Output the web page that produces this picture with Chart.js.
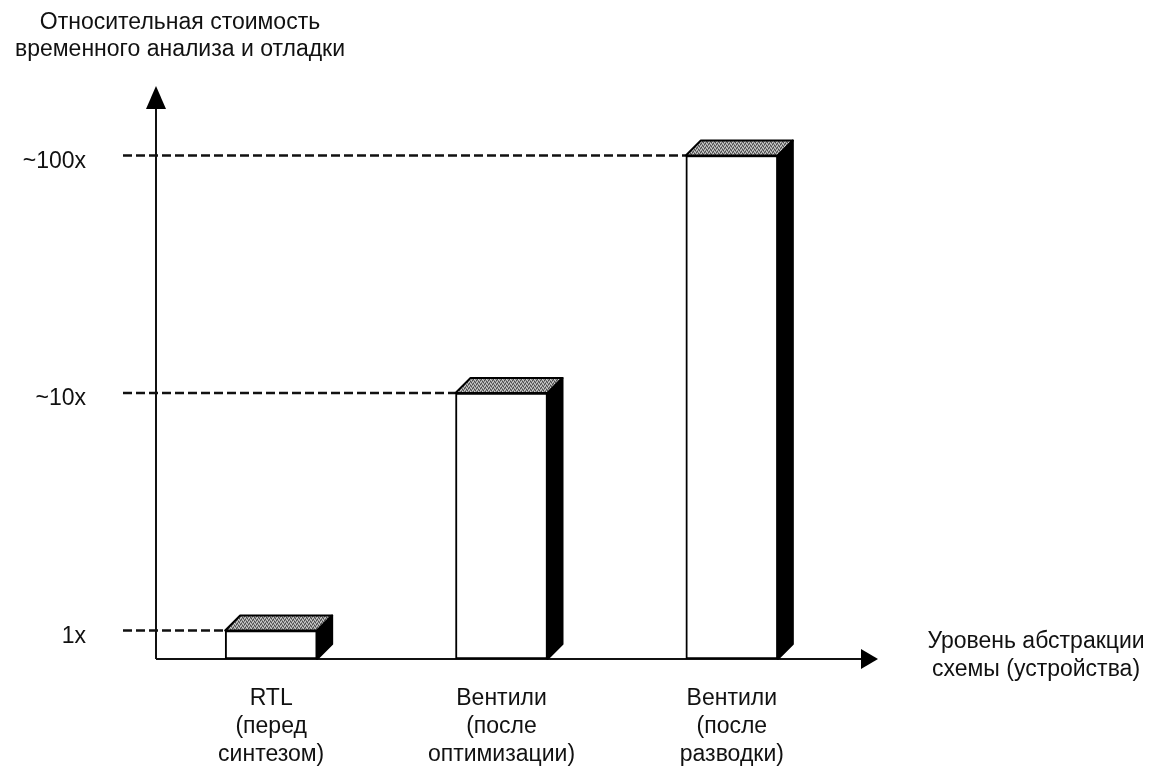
<!DOCTYPE html>
<html lang="ru">
<head>
  <meta charset="UTF-8" />
  <title>Относительная стоимость временного анализа и отладки</title>
  <script src="https://cdn.jsdelivr.net/npm/chart.js"></script>
  <style>
    html, body { margin: 0; padding: 0; background: #fff; }
    #wrap { width: 1149px; height: 768px; position: relative; }
  </style>
</head>
<body>
  <div id="wrap"><canvas id="cost-chart"></canvas></div>

  <script>
    // данные
    const stages = [
      ['RTL', '(перед', 'синтезом)'],
      ['Вентили', '(после', 'оптимизации)'],
      ['Вентили', '(после', 'разводки)']
    ];
    const costValues = [1, 10, 100];
    const costTicks = [1, 10, 100];
    const costTickLabels = ['1x', '~10x', '~100x'];
    const yTitle = ['Относительная стоимость', 'временного анализа и отладки'];
    const xTitle = ['Уровень абстракции', 'схемы (устройства)'];

    const FONT = '"Liberation Sans", Arial, Helvetica, sans-serif';
    const FONT_SIZE = 23;

    // серая "зернистая" текстура для верхней грани
    function makeTopPattern(ctx) {
      const c = document.createElement('canvas');
      c.width = 4; c.height = 4;
      const p = c.getContext('2d');
      p.fillStyle = '#8f8f8f'; p.fillRect(0, 0, 4, 4);
      p.fillStyle = '#4a4a4a';
      p.fillRect(0, 0, 1, 1); p.fillRect(2, 1, 1, 1); p.fillRect(1, 3, 1, 1); p.fillRect(3, 2, 1, 1);
      p.fillStyle = '#cfcfcf';
      p.fillRect(1, 1, 1, 1); p.fillRect(3, 0, 1, 1); p.fillRect(0, 2, 1, 1); p.fillRect(2, 3, 1, 1);
      return ctx.createPattern(c, 'repeat');
    }

    const DEPTH = 15;

    const decorPlugin = {
      id: 'decor',
      beforeDatasetsDraw(chart) {
        const { ctx, chartArea, scales } = chart;
        const bars = chart.getDatasetMeta(0).data;
        ctx.save();
        // пунктирные линии от оси к вершинам столбцов
        ctx.strokeStyle = '#111';
        ctx.lineWidth = 2.5;
        ctx.setLineDash([9, 4]);
        costTicks.forEach((v, i) => {
          const y = scales.y.getPixelForValue(v);
          const b = bars[i].getProps(['x', 'width'], true);
          ctx.beginPath();
          ctx.moveTo(123, y);
          ctx.lineTo(b.x - b.width / 2, y);
          ctx.stroke();
        });
        ctx.setLineDash([]);
        // оси со стрелками
        ctx.lineWidth = 2;
        ctx.beginPath();
        ctx.moveTo(chartArea.left, chartArea.bottom);
        ctx.lineTo(chartArea.left, 100);
        ctx.moveTo(chartArea.left, chartArea.bottom);
        ctx.lineTo(866, chartArea.bottom);
        ctx.stroke();
        ctx.fillStyle = '#000';
        ctx.beginPath();
        ctx.moveTo(chartArea.left, 86);
        ctx.lineTo(chartArea.left - 10, 109);
        ctx.lineTo(chartArea.left + 10, 109);
        ctx.closePath();
        ctx.fill();
        ctx.beginPath();
        ctx.moveTo(878, chartArea.bottom);
        ctx.lineTo(861, chartArea.bottom - 10);
        ctx.lineTo(861, chartArea.bottom + 10);
        ctx.closePath();
        ctx.fill();
        ctx.restore();
      },
      afterDatasetsDraw(chart) {
        const { ctx } = chart;
        const pattern = makeTopPattern(ctx);
        ctx.save();
        ctx.lineWidth = 2;
        ctx.strokeStyle = '#000';
        ctx.lineJoin = 'round';
        chart.getDatasetMeta(0).data.forEach(bar => {
          const { x, y, base, width } = bar.getProps(['x', 'y', 'base', 'width'], true);
          const x0 = x - width / 2, x1 = x + width / 2;
          // верхняя грань
          ctx.beginPath();
          ctx.moveTo(x0, y);
          ctx.lineTo(x0 + DEPTH, y - DEPTH);
          ctx.lineTo(x1 + DEPTH, y - DEPTH);
          ctx.lineTo(x1, y);
          ctx.closePath();
          ctx.fillStyle = pattern;
          ctx.fill();
          ctx.stroke();
          // боковая грань
          ctx.beginPath();
          ctx.moveTo(x1, y);
          ctx.lineTo(x1 + DEPTH, y - DEPTH);
          ctx.lineTo(x1 + DEPTH, base - DEPTH);
          ctx.lineTo(x1, base);
          ctx.closePath();
          ctx.fillStyle = '#000';
          ctx.fill();
          ctx.stroke();
        });
        // подписи осей
        ctx.fillStyle = '#111';
        ctx.font = FONT_SIZE + 'px ' + FONT;
        ctx.textAlign = 'center';
        ctx.textBaseline = 'middle';
        ctx.fillText(yTitle[0], 180, 23);
        ctx.fillText(yTitle[1], 180, 50);
        ctx.fillText(xTitle[0], 1036, 642);
        ctx.fillText(xTitle[1], 1036, 670);
        ctx.restore();
      }
    };

    new Chart(document.getElementById('cost-chart'), {
      type: 'bar',
      data: {
        labels: stages,
        datasets: [{
          data: costValues,
          backgroundColor: '#fff',
          borderColor: '#000',
          borderWidth: 2,
          borderSkipped: false,
          barThickness: 92
        }]
      },
      options: {
        responsive: true,
        maintainAspectRatio: false,
        animation: false,
        layout: { padding: { left: 0, right: 302, top: 100, bottom: 0 } },
        plugins: { legend: { display: false }, tooltip: { enabled: false }, title: { display: false } },
        scales: {
          x: {
            grid: { display: false, drawTicks: false },
            border: { display: false },
            ticks: {
              color: '#111',
              font: { family: FONT, size: FONT_SIZE, lineHeight: 1.22 },
              padding: 26,
              maxRotation: 0
            },
            afterFit(scale) { scale.height = 768 - 659; }
          },
          y: {
            type: 'logarithmic',
            min: 0.759,
            max: 171.3,
            grid: { display: false, drawTicks: false },
            border: { display: false },
            afterBuildTicks(scale) { scale.ticks = costTicks.map(v => ({ value: v })); },
            ticks: {
              color: '#111',
              font: { family: FONT, size: FONT_SIZE },
              crossAlign: 'near',
              padding: 70,
              labelOffset: 6,
              callback: (v, i) => costTickLabels[i]
            },
            afterFit(scale) { scale.width = 156; }
          }
        }
      },
      plugins: [decorPlugin]
    });
  </script>
</body>
</html>
